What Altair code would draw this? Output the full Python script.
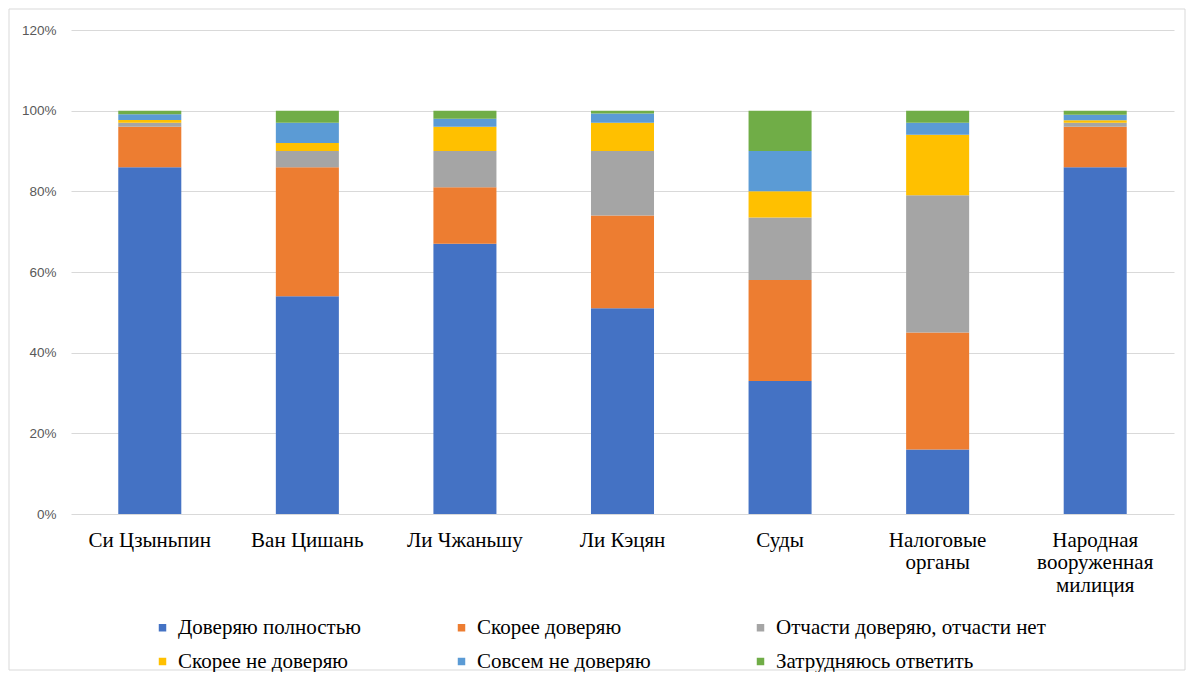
import altair as alt
import pandas as pd

categories = ["Си Цзыньпин", "Ван Цишань", "Ли Чжаньшу", "Ли Кэцян", "Суды",
              "Налоговые\nорганы", "Народная\nвооруженная\nмилиция"]
series = ["Доверяю полностью", "Скорее доверяю", "Отчасти доверяю, отчасти нет",
          "Скорее не доверяю", "Совсем не доверяю", "Затрудняюсь ответить"]
colors = ["#4472C4", "#ED7D31", "#A5A5A5", "#FFC000", "#5B9BD5", "#70AD47"]

trust_full = [86, 54, 67, 51, 33, 16, 86]
trust_rather = [10, 32, 14, 23, 25, 29, 10]
partly = [1, 4, 9, 16, 15.5, 34, 1]
rather_not = [0.7, 2, 6, 7, 6.5, 15, 0.6]
not_at_all = [1.4, 5, 2, 2.3, 10, 3, 1.4]
hard_to_say = [0.9, 3, 2, 0.7, 10, 3, 1]

values = [trust_full, trust_rather, partly, rather_not, not_at_all, hard_to_say]

rows = []
for si, (s, vals) in enumerate(zip(series, values)):
    for c, v in zip(categories, vals):
        rows.append({"cat": c, "series": s, "idx": si, "value": v / 100})
df = pd.DataFrame(rows)

bars = alt.Chart(df).mark_bar().encode(
    x=alt.X("cat:N", sort=categories, title=None,
            scale=alt.Scale(paddingInner=0.6, paddingOuter=0.3),
            axis=alt.Axis(labelAngle=0, labelExpr="split(datum.label, '\\n')",
                          labelFont="Liberation Serif", labelFontSize=21,
                          labelColor="#000000", labelLineHeight=22.5,
                          labelPadding=15, ticks=False, domain=False,
                          labelLimit=300)),
    y=alt.Y("value:Q", stack="zero", title=None,
            scale=alt.Scale(domain=[0, 1.2], nice=False),
            axis=alt.Axis(format=".0%", values=[0, 0.2, 0.4, 0.6, 0.8, 1.0, 1.2],
                          labelFont="Liberation Sans", labelFontSize=13.5,
                          labelColor="#595959", labelPadding=15, ticks=False,
                          domain=False, gridColor="#D9D9D9", gridWidth=1)),
    color=alt.Color("series:N", sort=series,
                    scale=alt.Scale(domain=series, range=colors),
                    legend=alt.Legend(title=None, orient="none", legendX=81,
                                      legendY=587, columns=3,
                                      direction="horizontal",
                                      gridAlign="all", columnPadding=3,
                                      rowPadding=12, symbolType="square",
                                      symbolSize=56, symbolStrokeWidth=0,
                                      labelOffset=5,
                                      labelFont="Liberation Serif",
                                      labelFontSize=21, labelColor="#000000",
                                      labelLimit=400, padding=0)),
    order=alt.Order("idx:Q", sort="ascending"),
)

frame = alt.Chart(pd.DataFrame({"f": [0]})).mark_rect(
    fill="transparent", stroke="#D9D9D9", strokeWidth=1
).encode(
    x=alt.value(-62), x2=alt.value(1114),
    y=alt.value(-21), y2=alt.value(640),
)

chart = alt.layer(frame, bars).properties(
    width=1103, height=484,
    padding={"top": 0, "left": 0, "right": 0, "bottom": 0},
    background="white",
).configure_view(stroke=None)

chart.save("out.html", embed_options={"renderer": "svg", "actions": False})
